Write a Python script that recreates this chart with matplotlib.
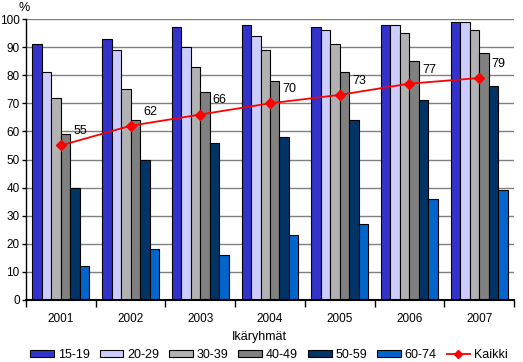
import numpy as np
import matplotlib
matplotlib.use("Agg")
import matplotlib.pyplot as plt
from matplotlib.patches import Patch
from matplotlib.lines import Line2D

years = ['2001', '2002', '2003', '2004', '2005', '2006', '2007']
groups = ['15-19', '20-29', '30-39', '40-49', '50-59', '60-74']
values = {
    '15-19': [91, 93, 97, 98, 97, 98, 99],
    '20-29': [81, 89, 90, 94, 96, 98, 99],
    '30-39': [72, 75, 83, 89, 91, 95, 96],
    '40-49': [59, 64, 74, 78, 81, 85, 88],
    '50-59': [40, 50, 56, 58, 64, 71, 76],
    '60-74': [12, 18, 16, 23, 27, 36, 39],
}
kaikki = [55, 62, 66, 70, 73, 77, 79]
colors = ['#3333CC', '#CCCCFF', '#B2B2B2', '#808080', '#003366', '#0066CC']

plt.rcParams['font.family'] = ['Liberation Sans', 'DejaVu Sans']
plt.rcParams['font.size'] = 8.5

fig = plt.figure(figsize=(5.23, 3.62), dpi=100)
ax = fig.add_axes([26 / 523, 1 - 300 / 362, (514 - 26) / 523, (300 - 19) / 362])

x = np.arange(len(years))
w = 0.136
for i, g in enumerate(groups):
    ax.bar(x + (i - 2.5) * w, values[g], width=w, color=colors[i],
           edgecolor='black', linewidth=0.8, zorder=2)

ax.plot(x, kaikki, color='red', marker='D', markersize=5, linewidth=1.3, zorder=3)
for xi, v in zip(x, kaikki):
    ax.annotate(str(v), (xi, v), xytext=(9, 8), textcoords='offset points',
                fontsize=9, zorder=4)

ax.set_xlim(-0.5, len(years) - 0.5)
ax.set_ylim(0, 100)
ax.set_yticks(range(0, 101, 10))
ax.yaxis.grid(True, color='#808080', linewidth=1)
ax.set_axisbelow(True)
ax.set_xticks(np.arange(-0.5, len(years)), minor=False)
ax.set_xticklabels([])
ax.set_xticks(x, minor=True)
ax.set_xticklabels(years, minor=True)
ax.tick_params(axis='x', which='major', direction='out', length=5, width=1)
ax.tick_params(axis='x', which='minor', length=0, pad=9)
ax.tick_params(axis='y', direction='out', length=3, width=1, pad=1.5)
for s in ['top', 'right']:
    ax.spines[s].set_visible(False)
ax.spines['bottom'].set_linewidth(1.5)
ax.spines['left'].set_linewidth(1)

fig.text(24 / 523, 1 - 8 / 362, '%', ha='center', va='center', fontsize=9)
fig.text(259 / 523, 1 - 337 / 362, 'Ikäryhmät', ha='center', va='center', fontsize=9)

handles = [Patch(facecolor=c, edgecolor='black', linewidth=0.8) for c in colors]
handles.append(Line2D([], [], color='red', marker='D', markersize=4, linewidth=1.3))
fig.legend(handles, groups + ['Kaikki'], loc='center', ncol=7,
           bbox_to_anchor=(269 / 523, 1 - 355 / 362), frameon=False,
           handlelength=1.9, handleheight=0.5, handletextpad=0.3,
           columnspacing=0.8, borderpad=0, fontsize=9)

fig.savefig('out.png', dpi=100)
